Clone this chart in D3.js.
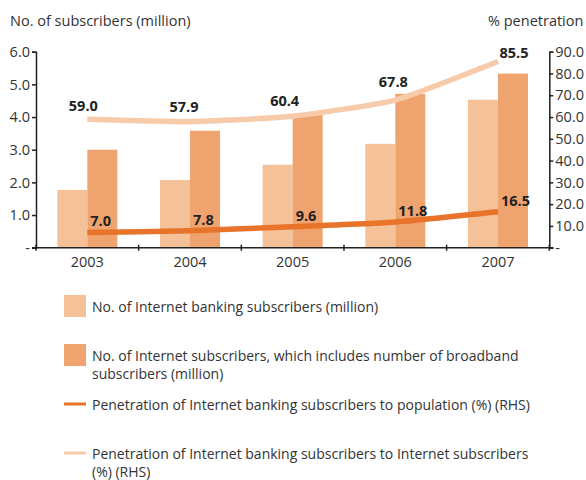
<!DOCTYPE html>
<html><head><meta charset="utf-8">
<script src="https://cdn.jsdelivr.net/npm/d3@7"></script>
<style>body{margin:0;background:#fff}svg{display:block}text{font-family:"Open Sans",sans-serif;fill:#333}</style>
</head><body><svg id="c" width="586" height="480"></svg>
<script>
const years = ["2003","2004","2005","2006","2007"];
const bankingSubs = [1.77, 2.07, 2.54, 3.18, 4.53];
const internetSubs = [3.0, 3.58, 4.1, 4.71, 5.33];
const penPopulation = [7.0, 7.8, 9.6, 11.8, 16.5];
const penInternet = [59.0, 57.9, 60.4, 67.8, 85.5];
const leftTicks = [0, 1, 2, 3, 4, 5, 6];
const rightTicks = [0, 10, 20, 30, 40, 50, 60, 70, 80, 90];
const legendItems = [
  {type:"rect", color:"#F4C199", lines:["No. of Internet banking subscribers (million)"]},
  {type:"rect", color:"#EFA36E", lines:["No. of Internet subscribers, which includes number of broadband","subscribers (million)"]},
  {type:"line", color:"#E8732A", lines:["Penetration of Internet banking subscribers to population (%) (RHS)"]},
  {type:"line", color:"#F7CBAA", lines:["Penetration of Internet banking subscribers to Internet subscribers","(%) (RHS)"]}
];

const svg = d3.select("#c");
const L = 36, R = 549.3, T = 51.7, B = 247.7;
const x = d3.scaleBand().domain(years).range([L, R]);
const yL = d3.scaleLinear().domain([0, 6]).range([B, T]);
const yR = d3.scaleLinear().domain([0, 90]).range([B, T]);
const barW = 30;

// bars
const g = svg.append("g");
g.selectAll(".b1").data(years).enter().append("rect")
  .attr("x", d => x(d) + x.bandwidth()/2 - barW)
  .attr("width", barW)
  .attr("y", (d,i) => yL(bankingSubs[i]))
  .attr("height", (d,i) => B - yL(bankingSubs[i]))
  .attr("fill", "#F4C199");
g.selectAll(".b2").data(years).enter().append("rect")
  .attr("x", d => x(d) + x.bandwidth()/2)
  .attr("width", barW)
  .attr("y", (d,i) => yL(internetSubs[i]))
  .attr("height", (d,i) => B - yL(internetSubs[i]))
  .attr("fill", "#EFA36E");

// lines
const line = d3.line().x(d => x(d[0]) + x.bandwidth()/2).y(d => yR(d[1])).curve(d3.curveCardinal.tension(0.5));
svg.append("path").datum(years.map((y,i)=>[y, penInternet[i]]))
  .attr("d", line).attr("fill","none").attr("stroke","#F7CBAA").attr("stroke-width",5.5);
svg.append("path").datum(years.map((y,i)=>[y, penPopulation[i]]))
  .attr("d", line).attr("fill","none").attr("stroke","#E8732A").attr("stroke-width",5.5);

// labels
const inetDx = [-4, -6, -8, -2, 16];
const inetDy = [-8, -10, -10, -13, -4];
svg.selectAll(".l1").data(penInternet).enter().append("text")
  .attr("x", (d,i) => x(years[i]) + x.bandwidth()/2 + inetDx[i])
  .attr("y", (d,i) => yR(d) + inetDy[i])
  .attr("text-anchor","middle").attr("font-weight","bold").attr("font-size",14.5)
  .style("fill","#222").text(d => d.toFixed(1));
svg.selectAll(".l2").data(penPopulation).enter().append("text")
  .attr("x", (d,i) => x(years[i]) + x.bandwidth()/2 + 3)
  .attr("y", (d,i) => yR(d) - 6)
  .attr("text-anchor","start").attr("font-weight","bold").attr("font-size",14.5)
  .style("fill","#222").text(d => d.toFixed(1));

// axes
const fmtL = d => d === 0 ? "-" : d.toFixed(1);
const axL = svg.append("g").attr("transform",`translate(${L},0)`)
  .call(d3.axisLeft(yL).tickValues(leftTicks).tickFormat(fmtL).tickSize(4).tickPadding(2));
const axR = svg.append("g").attr("transform",`translate(${R},0)`)
  .call(d3.axisRight(yR).tickValues(rightTicks).tickFormat(fmtL).tickSize(4).tickPadding(2));
const axB = svg.append("g").attr("transform",`translate(0,${B})`)
  .call(d3.axisBottom(x).tickSize(0).tickPadding(9));
[axL, axR, axB].forEach(a => {
  a.select(".domain").attr("stroke","#222").attr("stroke-width",1.5);
  a.selectAll(".tick line").attr("stroke","#222").attr("stroke-width",1.5);
  a.selectAll("text").attr("font-size",14.5).attr("font-family","Open Sans, sans-serif").style("fill","#333");
});
axB.select(".domain").attr("d", `M${L-4},0H${R+4}`);
// x tick marks at band boundaries
axB.selectAll(".sep").data(d3.range(years.length+1)).enter().append("line")
  .attr("x1", i => L + i*x.step()).attr("x2", i => L + i*x.step())
  .attr("y1", -3).attr("y2", 3).attr("stroke","#222").attr("stroke-width",1.5);

// axis titles
svg.append("text").attr("x",10).attr("y",26).attr("font-size",14.5).text("No. of subscribers (million)");
svg.append("text").attr("x",488).attr("y",26).attr("font-size",14.5).text("% penetration");

// legend
const legY = [306, 355, 404, 453];
legendItems.forEach((it, i) => {
  const gy = legY[i];
  if (it.type === "rect") {
    svg.append("rect").attr("x",64).attr("y",gy-11).attr("width",22).attr("height",22).attr("fill",it.color);
  } else {
    svg.append("line").attr("x1",64).attr("x2",86).attr("y1",gy).attr("y2",gy).attr("stroke",it.color).attr("stroke-width",3);
  }
  it.lines.forEach((t, j) => {
    svg.append("text").attr("x",92).attr("y", gy + 6 + j*17.5).attr("font-size",14).text(t);
  });
});
</script></body></html>
